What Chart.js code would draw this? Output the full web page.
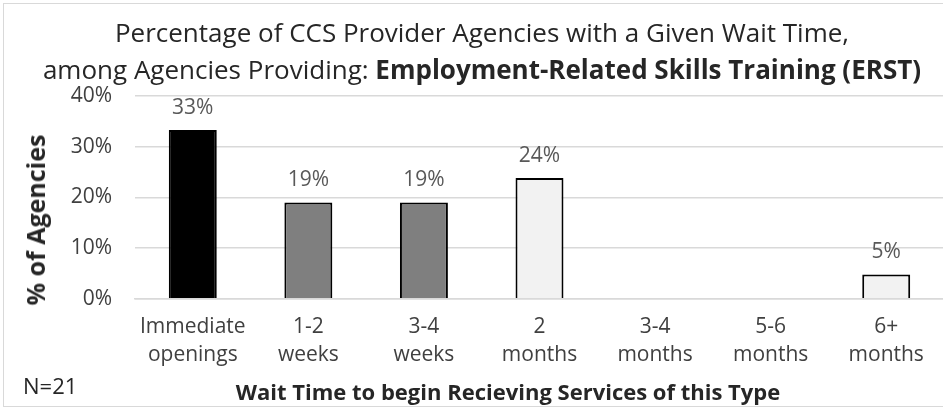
<!DOCTYPE html>
<html>
<head>
<meta charset="utf-8">
<script src="https://cdn.jsdelivr.net/npm/chart.js@4/dist/chart.umd.min.js"></script>
<style>
  html, body { margin: 0; padding: 0; background: #fff; overflow: hidden; }
  body { width: 943px; height: 409px; position: relative; font-family: "Open Sans", sans-serif; }
  #frame { position: absolute; left: 3px; top: 3px; width: 960px; height: 402px; border: 1.5px solid #d9d9d9; }
  #wrap { position: absolute; left: 0; top: 0; width: 946px; height: 409px; }
  .title { position: absolute; left: 0; width: 964px; text-align: center; color: #262626; font-size: 26px; line-height: 36px; white-space: nowrap; }
  #t1 { top: 14px; }
  #t2 { top: 51px; }
  #ytitle { position: absolute; left: 35px; top: 220px; transform: translate(-50%, -50%) rotate(-90deg); font-weight: bold; font-size: 25px; color: #262626; white-space: nowrap; }
  #xtitle { position: absolute; left: 508px; top: 391px; transform: translate(-50%, -50%); font-weight: bold; font-size: 22px; color: #262626; white-space: nowrap; }
  #note { position: absolute; left: 23px; top: 385px; transform: translateY(-50%); font-size: 22px; color: #262626; }
</style>
</head>
<body>
<div id="frame"></div>
<div id="wrap"><canvas id="chart"></canvas></div>
<div class="title" id="t1">Percentage of CCS Provider Agencies with a Given Wait Time,</div>
<div class="title" id="t2">among Agencies Providing: <b>Employment-Related Skills Training (ERST)</b></div>
<div id="ytitle">% of Agencies</div>
<div id="xtitle">Wait Time to begin Recieving Services of this Type</div>
<div id="note">N=21</div>
<script>
const FONT = "'Open Sans', sans-serif";

// wait-time buckets, two lines each
const categories = [
  ["Immediate", "openings"],
  ["1-2", "weeks"],
  ["3-4", "weeks"],
  ["2", "months"],
  ["3-4", "months"],
  ["5-6", "months"],
  ["6+", "months"],
];
// share of the 21 agencies, in percent
const percentAgencies = [33.3, 19.0, 19.0, 23.8, 0, 0, 4.8];
const barColors = ["#000000", "#7f7f7f", "#7f7f7f", "#f2f2f2", "#f2f2f2", "#f2f2f2", "#f2f2f2"];
const yTicks = [0, 10, 20, 30, 40];

// percent labels above each non-empty bar
const valueLabels = {
  id: "valueLabels",
  afterDatasetsDraw(chart) {
    const ctx = chart.ctx;
    const meta = chart.getDatasetMeta(0);
    ctx.save();
    ctx.font = `21px ${FONT}`;
    ctx.fillStyle = "#595959";
    ctx.textAlign = "center";
    ctx.textBaseline = "middle";
    meta.data.forEach((bar, i) => {
      const v = percentAgencies[i];
      if (!v) return;
      ctx.fillText(`${Math.round(v)}%`, bar.x, bar.y - 22);
    });
    ctx.restore();
  },
};

new Chart(document.getElementById("chart"), {
  type: "bar",
  data: {
    labels: categories,
    datasets: [{
      data: percentAgencies,
      backgroundColor: barColors,
      borderColor: "#000000",
      borderWidth: 2,
      categoryPercentage: 1,
      barPercentage: 0.415,
    }],
  },
  options: {
    responsive: true,
    maintainAspectRatio: false,
    animation: false,
    events: [],
    layout: { padding: { left: 0, right: 2, top: 96, bottom: 26 } },
    plugins: { legend: { display: false }, tooltip: { enabled: false } },
    scales: {
      x: {
        grid: { display: false, drawTicks: false },
        border: { display: true, color: "#d9d9d9", width: 1.5 },
        ticks: { font: { family: FONT, size: 21, lineHeight: 1.34 }, color: "#404040", padding: 14, maxRotation: 0, autoSkip: false },
      },
      y: {
        min: 0,
        max: 40,
        afterBuildTicks(scale) { scale.ticks = yTicks.map((value) => ({ value })); },
        afterFit(scale) { scale.width = 135; },
        grid: { color: "#d9d9d9", lineWidth: 1.5, drawTicks: false },
        border: { display: false },
        ticks: { font: { family: FONT, size: 21 }, color: "#404040", padding: 23, callback: (v) => `${v}%` },
      },
    },
  },
  plugins: [valueLabels],
});
</script>
</body>
</html>
